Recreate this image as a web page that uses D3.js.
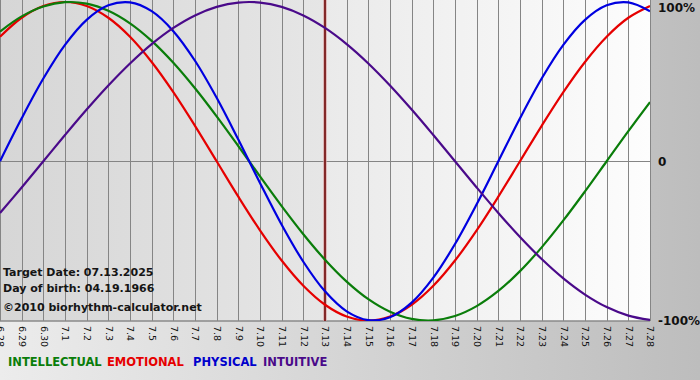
<!DOCTYPE html>
<html>
<head>
<meta charset="utf-8">
<script src="https://cdn.jsdelivr.net/npm/d3@7"></script>
<style>
  html, body { margin: 0; padding: 0; background: #fff; }
  svg { display: block; }
  text { font-family: "DejaVu Sans", Verdana, sans-serif; }
</style>
</head>
<body>
<svg id="chart" width="700" height="380"></svg>
<script>
// ---------- data ----------
const dayLabels = ["6.28","6.29","6.30","7.1","7.2","7.3","7.4","7.5","7.6","7.7","7.8","7.9","7.10",
  "7.11","7.12","7.13","7.14","7.15","7.16","7.17","7.18","7.19","7.20","7.21","7.22","7.23","7.24",
  "7.25","7.26","7.27","7.28"];
const physical = [0, 0.2698, 0.5196, 0.7308, 0.8879, 0.9791, 0.9977, 0.9423, 0.8170, 0.6310, 0.3984,
  0.1362, -0.1362, -0.3984, -0.6310, -0.8170, -0.9423, -0.9977, -0.9791, -0.8879, -0.7308, -0.5196,
  -0.2698, 0, 0.2698, 0.5196, 0.7308, 0.8879, 0.9791, 0.9977, 0.9423];
const emotional = [0.7818, 0.9010, 0.9749, 1, 0.9749, 0.9010, 0.7818, 0.6235, 0.4339, 0.2225, 0,
  -0.2225, -0.4339, -0.6235, -0.7818, -0.9010, -0.9749, -1, -0.9749, -0.9010, -0.7818, -0.6235,
  -0.4339, -0.2225, 0, 0.2225, 0.4339, 0.6235, 0.7818, 0.9010, 0.9749];
const intellectual = [0.8146, 0.9096, 0.9718, 0.9989, 0.9898, 0.9450, 0.8660, 0.7557, 0.6182, 0.4582,
  0.2817, 0.0951, -0.0951, -0.2817, -0.4582, -0.6182, -0.7557, -0.8660, -0.9450, -0.9898, -0.9989,
  -0.9718, -0.9096, -0.8146, -0.6901, -0.5406, -0.3717, -0.1893, 0, 0.1893, 0.3717];
const intuitive = [-0.3247, -0.1646, 0, 0.1646, 0.3247, 0.4759, 0.6142, 0.7357, 0.8372, 0.9158, 0.9694,
  0.9966, 0.9966, 0.9694, 0.9158, 0.8372, 0.7357, 0.6142, 0.4759, 0.3247, 0.1646, 0, -0.1646,
  -0.3247, -0.4759, -0.6142, -0.7357, -0.8372, -0.9158, -0.9694, -0.9966];
const targetIndex = 15;
const infoLines = ["Target Date: 07.13.2025", "Day of birth: 04.19.1966", "\u00A92010 biorhythm-calculator.net"];
const legendNames = ["INTELLECTUAL", "EMOTIONAL", "PHYSICAL", "INTUITIVE"];
const yTickValues = [1, 0, -1];
const yTickLabels = ["100%", "0", "-100%"];

// ---------- layout ----------
const W = 700, H = 380;
const plotW = 650, plotTop = 0, plotBottom = 321;
const svg = d3.select("#chart");
const defs = svg.append("defs");

const bgGrad = defs.append("linearGradient").attr("id", "bgGrad").attr("x1", "0").attr("x2", "1").attr("y1", "0").attr("y2", "0");
bgGrad.append("stop").attr("offset", "0").attr("stop-color", "#ececec");
bgGrad.append("stop").attr("offset", "1").attr("stop-color", "#bdbdbd");

const leftGrad = defs.append("linearGradient").attr("id", "leftGrad").attr("x1", "0").attr("x2", "1").attr("y1", "0").attr("y2", "0");
leftGrad.append("stop").attr("offset", "0").attr("stop-color", "#d6d6d6");
leftGrad.append("stop").attr("offset", "1").attr("stop-color", "#e6e6e6");

const rightGrad = defs.append("linearGradient").attr("id", "rightGrad").attr("x1", "0").attr("x2", "1").attr("y1", "0").attr("y2", "0");
rightGrad.append("stop").attr("offset", "0").attr("stop-color", "#eaeaea");
rightGrad.append("stop").attr("offset", "1").attr("stop-color", "#fdfdfd");

defs.append("clipPath").attr("id", "plotClip").append("rect")
  .attr("x", 0).attr("y", plotTop).attr("width", plotW).attr("height", plotBottom - plotTop);

svg.append("rect").attr("width", W).attr("height", H).attr("fill", "url(#bgGrad)");

const x = d3.scaleLinear().domain([0, dayLabels.length - 1]).range([0, plotW]);
const y = d3.scaleLinear().domain([-1, 1]).range([plotBottom - 0.5, 2]);

// plot backgrounds
svg.append("rect").attr("x", 0).attr("y", plotTop)
  .attr("width", x(targetIndex)).attr("height", plotBottom - plotTop).attr("fill", "url(#leftGrad)");
svg.append("rect").attr("x", x(targetIndex)).attr("y", plotTop)
  .attr("width", plotW - x(targetIndex)).attr("height", plotBottom - plotTop).attr("fill", "url(#rightGrad)");

// vertical grid
const grid = svg.append("g").attr("transform", `translate(0,${plotBottom})`)
  .call(d3.axisBottom(x).tickValues(d3.range(dayLabels.length)).tickSize(-(plotBottom - plotTop)).tickFormat(""));
grid.select(".domain").remove();
grid.selectAll(".tick line").attr("stroke", "#858585").attr("stroke-width", 1)
  .attr("shape-rendering", "crispEdges");

// zero line
svg.append("line").attr("x1", 0).attr("x2", plotW).attr("y1", Math.round(y(0)) + 0.5).attr("y2", Math.round(y(0)) + 0.5)
  .attr("stroke", "#858585").attr("stroke-width", 1);

// bottom axis labels
const xAxis = svg.append("g").attr("transform", `translate(0,${plotBottom})`)
  .call(d3.axisBottom(x).tickValues(d3.range(dayLabels.length)).tickSize(0).tickFormat(i => dayLabels[i]));
xAxis.select(".domain").remove();
xAxis.selectAll(".tick text")
  .attr("transform", "rotate(90)")
  .attr("x", 5).attr("y", 0).attr("dy", "0.35em")
  .style("text-anchor", "start")
  .style("font-family", "'DejaVu Sans', Verdana, sans-serif")
  .style("font-size", "9.5px")
  .attr("fill", "#111");

svg.append("line").attr("x1", 0).attr("x2", plotW).attr("y1", plotBottom).attr("y2", plotBottom)
  .attr("stroke", "#8a8a8a").attr("stroke-width", 1.5);

// target line
svg.append("line").attr("x1", x(targetIndex)).attr("x2", x(targetIndex)).attr("y1", plotTop).attr("y2", plotBottom)
  .attr("stroke", "#d89a9a").attr("stroke-width", 3.2);
svg.append("line").attr("x1", x(targetIndex)).attr("x2", x(targetIndex)).attr("y1", plotTop).attr("y2", plotBottom)
  .attr("stroke", "#7a1c1c").attr("stroke-width", 1.8);

// curves
const line = d3.line().x((d, i) => x(i)).y(d => y(d)).curve(d3.curveCatmullRom);
const series = [
  { vals: emotional, color: "#e60000" },
  { vals: intellectual, color: "#0a7d0a" },
  { vals: physical, color: "#0000e0" },
  { vals: intuitive, color: "#4a0a8a" }
];
const curves = svg.append("g").attr("clip-path", "url(#plotClip)");
series.forEach(s => {
  curves.append("path").attr("d", line(s.vals)).attr("fill", "none")
    .attr("stroke", s.color).attr("stroke-width", 2.2).attr("stroke-linejoin", "round");
});

// right axis labels
const yAxis = svg.append("g").attr("transform", `translate(${plotW},0)`)
  .call(d3.axisRight(y).tickValues(yTickValues).tickSize(0).tickPadding(8)
    .tickFormat(v => yTickLabels[yTickValues.indexOf(v)]));
yAxis.select(".domain").remove();
yAxis.selectAll(".tick text")
  .style("font-family", "'DejaVu Sans', Verdana, sans-serif")
  .style("font-size", "12px").style("font-weight", "bold").attr("fill", "#111")
  .attr("dy", v => v === 1 ? "0.75em" : "0.35em");

// info texts
const infoY = [276, 292, 311];
infoLines.forEach((t, i) => {
  svg.append("text").attr("x", 3).attr("y", infoY[i]).text(t)
    .style("font-size", "11px").style("font-weight", "bold").attr("fill", "#151515");
});

// legend
const legendColors = ["#0a7d0a", "#e60000", "#0000cc", "#4a0a8a"];
const legendX = [8, 107, 193, 263];
legendNames.forEach((n, i) => {
  svg.append("text").attr("x", legendX[i]).attr("y", 366).text(n)
    .style("font-size", "11.5px").style("font-weight", "bold").attr("fill", legendColors[i]);
});
</script>
</body>
</html>
